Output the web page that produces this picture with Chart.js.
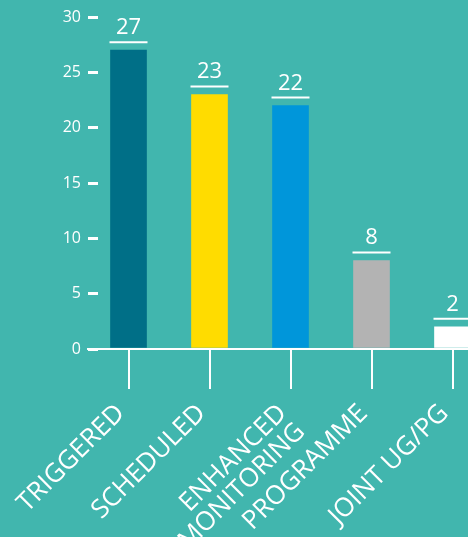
<!DOCTYPE html>
<html>
<head>
<meta charset="utf-8">
<script src="https://cdn.jsdelivr.net/npm/chart.js@4/dist/chart.umd.min.js"></script>
<style>
  html, body { margin: 0; padding: 0; background: #41b6ae; overflow: hidden; width: 468px; height: 537px; }
  #wrap { position: absolute; left: 0; top: 0; width: 493px; height: 537px; }
</style>
</head>
<body>
<div id="wrap"><canvas id="c"></canvas></div>
<script>
const categories = [["TRIGGERED"], ["SCHEDULED"], ["ENHANCED", "MONITORING"], ["PROGRAMME"], ["JOINT UG/PG"]];
const values = [27, 23, 22, 8, 2];
const barColors = ["#006f87", "#ffdc00", "#0096da", "#b3b3b3", "#ffffff"];
const yTicks = [0, 5, 10, 15, 20, 25, 30];

const FONT = "'Open Sans', 'Noto Sans', sans-serif";

const valueLabels = {
  id: 'valueLabels',
  afterDatasetsDraw(chart) {
    const ctx = chart.ctx;
    const meta = chart.getDatasetMeta(0);
    ctx.save();
    ctx.fillStyle = '#ffffff';
    ctx.strokeStyle = '#ffffff';
    ctx.lineWidth = 2;
    ctx.font = "22px " + FONT;
    ctx.textAlign = 'center';
    ctx.textBaseline = 'alphabetic';
    meta.data.forEach((bar, i) => {
      const x = bar.x, y = bar.y;
      ctx.beginPath();
      ctx.moveTo(x - 19, y - 8);
      ctx.lineTo(x + 19, y - 8);
      ctx.stroke();
      ctx.fillText(String(values[i]), x, y - 16);
    });
    ctx.restore();
  }
};

new Chart(document.getElementById('c'), {
  type: 'bar',
  data: {
    labels: categories,
    datasets: [{
      data: values,
      backgroundColor: barColors,
      borderWidth: 0,
      barThickness: 36
    }]
  },
  options: {
    responsive: true,
    maintainAspectRatio: false,
    animation: false,
    layout: { padding: { top: 17, right: 0, bottom: 0, left: 0 } },
    plugins: { legend: { display: false }, tooltip: { enabled: false } },
    scales: {
      x: {
        offset: true,
        grid: {
          display: true,
          offset: false,
          drawOnChartArea: false,
          drawTicks: true,
          tickLength: 40,
          tickWidth: 2,
          tickColor: '#ffffff',
          color: '#ffffff',
          lineWidth: 2
        },
        border: { display: true, color: '#ffffff', width: 2 },
        ticks: {
          color: '#ffffff',
          font: { family: FONT, size: 26, lineHeight: 1.0 },
          minRotation: 45,
          maxRotation: 45,
          autoSkip: false,
          padding: 11,
          labelOffset: -8
        },
        afterFit(scale) { scale.height = 188; }
      },
      y: {
        min: 0,
        max: 30,
        afterBuildTicks(scale) { scale.ticks = yTicks.map(v => ({ value: v })); },
        grid: {
          display: true,
          drawOnChartArea: true,
          drawTicks: false,
          color: '#ffffff',
          lineWidth: 3
        },
        border: { display: false, dash: [10, 2000] },
        ticks: {
          color: '#ffffff',
          font: { family: FONT, size: 16 },
          padding: 7
        },
        afterFit(scale) { scale.width = 88; }
      }
    }
  },
  plugins: [valueLabels]
});
</script>
</body>
</html>
